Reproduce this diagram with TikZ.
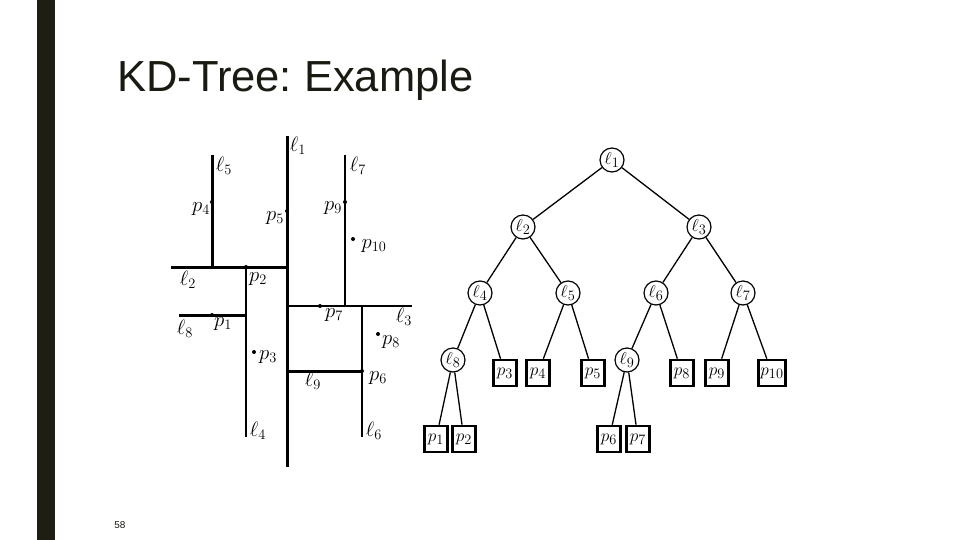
\documentclass[tikz,border=0pt]{standalone}
\usepackage{fontspec}
\setmainfont{Liberation Sans}
\definecolor{barc}{HTML}{1E1E14}
\definecolor{titlec}{HTML}{1A1A12}
\tikzset{
  lab/.style={inner sep=0pt, font=\fontsize{20}{24}\selectfont},
  pt/.style={fill=black, circle, inner sep=0pt, minimum size=4pt},
  tn/.style={draw, circle, line width=1.2pt, inner sep=0pt, minimum size=24pt, font=\fontsize{19}{22}\selectfont},
  lf/.style={draw, rectangle, line width=2.6pt, inner sep=2pt, minimum width=23pt, minimum height=26pt, font=\fontsize{19}{22}\selectfont},
  edge/.style={line width=1.3pt},
  cutA/.style={line width=3pt},
  cutB/.style={line width=2.4pt},
  cutC/.style={line width=1.3pt}
}
\begin{document}
\frenchspacing
\begin{tikzpicture}[x=1pt,y=-1pt]
\useasboundingbox (0,0) rectangle (960,540);
\fill[white] (0,0) rectangle (960,540);
\fill[barc] (37,0) rectangle (55,540);
\node[anchor=base west, inner sep=0pt, font=\fontsize{43.5}{52}\selectfont, text=titlec] (title) at (117,92) {KD-Tree: Example};
\node[inner sep=0pt, font=\fontsize{10}{12}\selectfont, text=titlec] (pg) at (120,525) {58};

% partition
\draw[cutA] (287,136) -- (287,467);
\draw[cutA] (212,155) -- (212,267);
\draw[cutA] (171,267) -- (287,267);
\draw[cutB] (246,267) -- (246,437);
\draw[cutA] (179,315) -- (246,315);
\draw[cutC] (345,155) -- (345,306);
\draw[line width=2pt] (287,306) -- (412,306);
\draw[cutB] (362,306) -- (362,437);
\draw[cutA] (287,371) -- (362,371);

\node[pt] (d4) at (212,202) {};
\node[pt] (d5) at (287,211) {};
\node[pt] (d9) at (345,202) {};
\node[pt] (d10) at (353,239) {};
\node[pt] (d2) at (246,267) {};
\node[pt] (d1) at (212,315) {};
\node[pt] (d3) at (254,352) {};
\node[pt] (d7) at (320,306) {};
\node[pt] (d6) at (362,371) {};
\node[pt] (d8) at (378,334) {};

\node[lab] (L1) at (298,146) {$\ell_1$};
\node[lab] (L5) at (224,166) {$\ell_5$};
\node[lab] (L7) at (358,166) {$\ell_7$};
\node[lab] (L2) at (188,280) {$\ell_2$};
\node[lab] (L8) at (185,329) {$\ell_8$};
\node[lab] (L3) at (404,317) {$\ell_3$};
\node[lab] (L9) at (313,381) {$\ell_9$};
\node[lab] (L4) at (258,431) {$\ell_4$};
\node[lab] (L6) at (374,431) {$\ell_6$};
\node[lab] (P4) at (201,209) {$p_4$};
\node[lab] (P5) at (275,218) {$p_5$};
\node[lab] (P9) at (333,208) {$p_9$};
\node[lab] (P10) at (374,246) {$p_{10}$};
\node[lab] (P2) at (258,279) {$p_2$};
\node[lab] (P1) at (223,324) {$p_1$};
\node[lab] (P3) at (268,357) {$p_3$};
\node[lab] (P7) at (334,315) {$p_7$};
\node[lab] (P6) at (378,378) {$p_6$};
\node[lab] (P8) at (391,342) {$p_8$};

% tree
\node[tn] (t1) at (612,160) {$\ell_1$};
\node[tn] (t2) at (523,227) {$\ell_2$};
\node[tn] (t3) at (699,227) {$\ell_3$};
\node[tn] (t4) at (480,293) {$\ell_4$};
\node[tn] (t5) at (568,293) {$\ell_5$};
\node[tn] (t6) at (656,293) {$\ell_6$};
\node[tn] (t7) at (743,293) {$\ell_7$};
\node[tn] (t8) at (453,360) {$\ell_8$};
\node[tn] (t9) at (627,360) {$\ell_9$};
\node[lf] (b3) at (505,373) {$p_3$};
\node[lf] (b4) at (538,373) {$p_4$};
\node[lf] (b5) at (593,373) {$p_5$};
\node[lf] (b8) at (682,373) {$p_8$};
\node[lf] (b9) at (717,373) {$p_9$};
\node[lf] (b10) at (772,373) {$p_{10}$};
\node[lf] (b1) at (436,439) {$p_1$};
\node[lf] (b2) at (464,439) {$p_2$};
\node[lf] (b6) at (609,439) {$p_6$};
\node[lf] (b7) at (638,439) {$p_7$};

\draw[edge] (t1) -- (t2);
\draw[edge] (t1) -- (t3);
\draw[edge] (t2) -- (t4);
\draw[edge] (t2) -- (t5);
\draw[edge] (t3) -- (t6);
\draw[edge] (t3) -- (t7);
\draw[edge] (t4) -- (t8);
\draw[edge] (t4) -- (b3);
\draw[edge] (t5) -- (b4);
\draw[edge] (t5) -- (b5);
\draw[edge] (t6) -- (t9);
\draw[edge] (t6) -- (b8);
\draw[edge] (t7) -- (b9);
\draw[edge] (t7) -- (b10);
\draw[edge] (t8) -- (b1);
\draw[edge] (t8) -- (b2);
\draw[edge] (t9) -- (b6);
\draw[edge] (t9) -- (b7);
\end{tikzpicture}
\end{document}
